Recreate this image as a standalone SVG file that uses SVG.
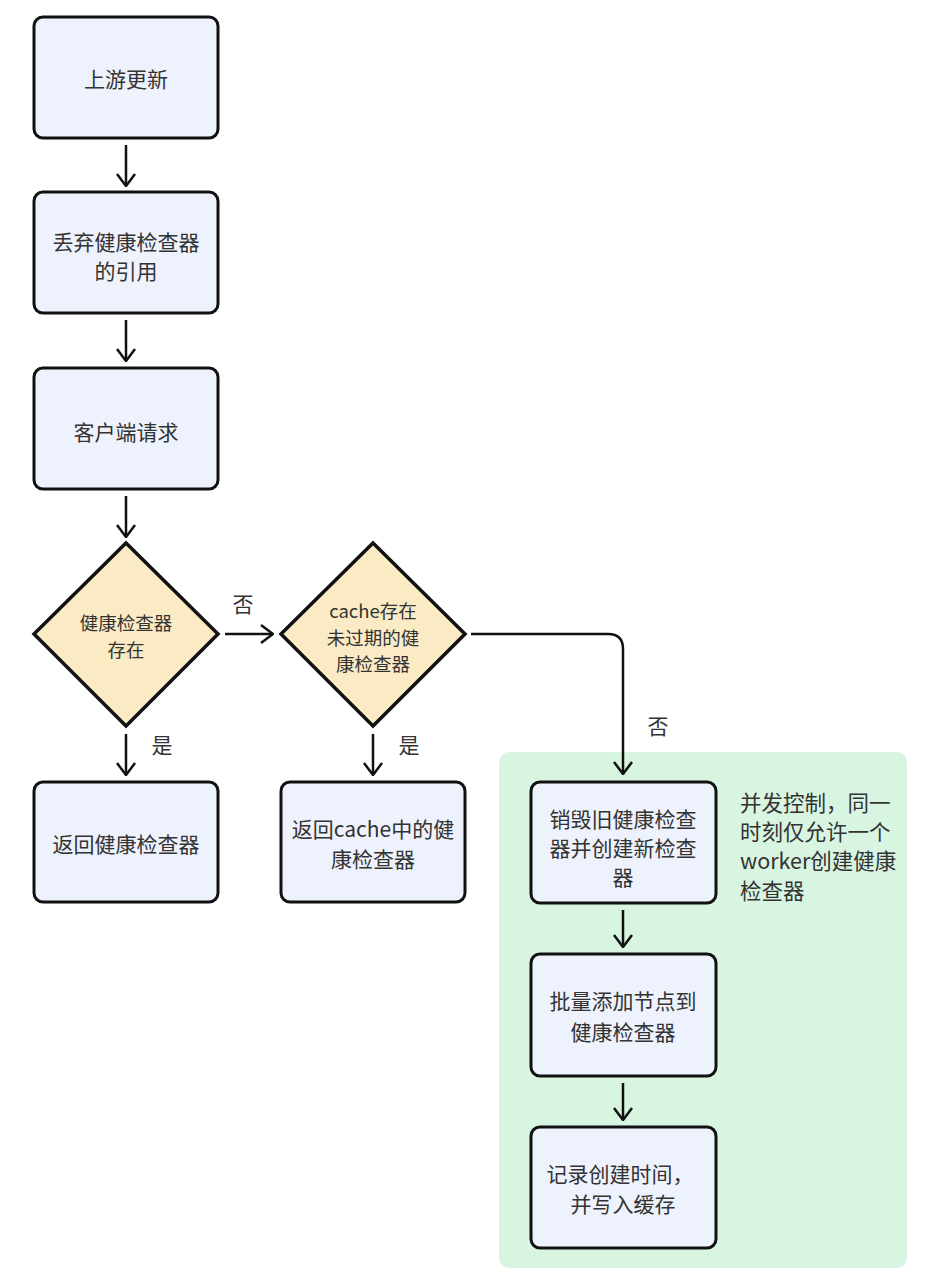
<svg xmlns="http://www.w3.org/2000/svg" width="940" height="1288" viewBox="0 0 940 1288">
<defs>
<style>
.box{fill:#EEF2FC;stroke:#111;stroke-width:3}
.dia{fill:#FAEBC5;stroke:#111;stroke-width:3.5;stroke-linejoin:miter}
.t{font-family:"Noto Sans CJK SC","Noto Sans",sans-serif;font-size:21px;fill:#333;text-anchor:middle;dominant-baseline:central}
.ts{font-size:18.5px}
.n{font-family:"Noto Sans CJK SC","Noto Sans",sans-serif;font-size:21.5px;fill:#333;dominant-baseline:central}
.c{fill:none;stroke:#111;stroke-width:2.5}
</style>
<marker id="ah" viewBox="0 0 14 20" refX="13" refY="10" markerWidth="14" markerHeight="20" markerUnits="userSpaceOnUse" orient="auto">
<path d="M1,1 L13,10 L1,19" fill="none" stroke="#111" stroke-width="2.5"/>
</marker>
</defs>
<rect width="940" height="1288" fill="#fff"/>
<g id="group-bg">
<rect x="499" y="752" width="408" height="516" rx="10" fill="#D8F5E2"/>
</g>
<g id="connectors">
<path class="c" d="M126,145 V186" marker-end="url(#ah)"/>
<path class="c" d="M126,320 V361" marker-end="url(#ah)"/>
<path class="c" d="M126,496 V537" marker-end="url(#ah)"/>
<path class="c" d="M126,734 V775" marker-end="url(#ah)"/>
<path class="c" d="M373,734 V775" marker-end="url(#ah)"/>
<path class="c" d="M225,634 H273" marker-end="url(#ah)"/>
<path class="c" d="M471,634 H608 Q623,634 623,649 V774" marker-end="url(#ah)"/>
<path class="c" d="M623,910 V947" marker-end="url(#ah)"/>
<path class="c" d="M623,1083 V1120" marker-end="url(#ah)"/>
<text class="t" x="243" y="603">否</text>
<text class="t" x="162" y="744">是</text>
<text class="t" x="409" y="744">是</text>
<text class="t" x="658" y="725">否</text>
</g>
<g id="n1">
<rect class="box" x="34" y="17" width="184" height="121" rx="9"/>
<text class="t" x="126" y="78">上游更新</text>
</g>
<g id="n2">
<rect class="box" x="34" y="192" width="184" height="121" rx="9"/>
<text class="t" x="126" y="241">丢弃健康检查器</text>
<text class="t" x="126" y="270">的引用</text>
</g>
<g id="n3">
<rect class="box" x="34" y="368" width="184" height="121" rx="9"/>
<text class="t" x="126" y="431">客户端请求</text>
</g>
<g id="d1">
<polygon class="dia" points="126,543 218,634 126,726 34,634"/>
<text class="t ts" x="126" y="622">健康检查器</text>
<text class="t ts" x="126" y="649">存在</text>
</g>
<g id="d2">
<polygon class="dia" points="373,543 465,634 373,726 281,634"/>
<text class="t ts" x="373" y="610">cache存在</text>
<text class="t ts" x="373" y="637">未过期的健</text>
<text class="t ts" x="373" y="663">康检查器</text>
</g>
<g id="n4">
<rect class="box" x="34" y="782" width="184" height="120" rx="9"/>
<text class="t" x="126" y="843">返回健康检查器</text>
</g>
<g id="n5">
<rect class="box" x="281" y="782" width="184" height="120" rx="9"/>
<text class="t" x="373" y="828">返回cache中的健</text>
<text class="t" x="373" y="858">康检查器</text>
</g>
<g id="n6">
<rect class="box" x="531" y="782" width="185" height="121" rx="9"/>
<text class="t" x="623" y="818">销毁旧健康检查</text>
<text class="t" x="623" y="847">器并创建新检查</text>
<text class="t" x="623" y="876">器</text>
</g>
<g id="note">
<text class="n" x="740" y="801">并发控制，同一</text>
<text class="n" x="740" y="830">时刻仅允许一个</text>
<text class="n" x="740" y="859">worker创建健康</text>
<text class="n" x="740" y="889">检查器</text>
</g>
<g id="n7">
<rect class="box" x="531" y="954" width="185" height="122" rx="9"/>
<text class="t" x="623" y="1000">批量添加节点到</text>
<text class="t" x="623" y="1031">健康检查器</text>
</g>
<g id="n8">
<rect class="box" x="531" y="1127" width="185" height="121" rx="9"/>
<text class="t" x="620" y="1173">记录创建时间，</text>
<text class="t" x="623" y="1203">并写入缓存</text>
</g>
</svg>
